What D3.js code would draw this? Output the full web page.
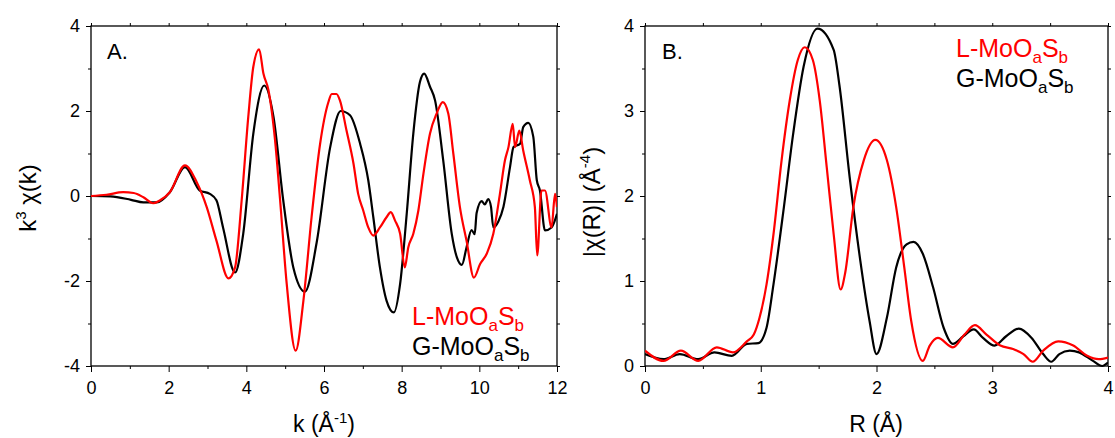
<!DOCTYPE html>
<html>
<head>
<meta charset="utf-8">
<script src="https://cdn.jsdelivr.net/npm/d3@7"></script>
<style>
  html, body { margin: 0; padding: 0; background: #fff; }
  svg { display: block; }
</style>
</head>
<body>
<svg id="chart" width="1115" height="438"></svg>
<script>
// ---- k-space EXAFS, k^3 weighted ----
const kG   = [0, 0.5, 1.03, 1.35, 1.69, 2.03, 2.42, 2.8, 3.06, 3.23, 3.40, 3.71, 3.92, 4.18, 4.46, 4.7, 4.95, 5.21, 5.51, 5.81, 6.16, 6.43, 6.67, 6.93, 7.14, 7.27, 7.44, 7.61, 7.8, 7.96, 8.13, 8.3, 8.47, 8.58, 8.73, 8.86, 9.07, 9.29, 9.42, 9.55, 9.67, 9.8, 9.88, 9.93, 10.06, 10.14, 10.23, 10.3, 10.36, 10.49, 10.62, 10.79, 10.88, 11.05, 11.13, 11.26, 11.39, 11.48, 11.56, 11.69, 11.86, 12];
const chiG = [0, -0.01, -0.09, -0.15, -0.15, 0.09, 0.68, 0.13, 0.05, -0.1, -0.74, -1.8, -0.89, 1.47, 2.6, 1.86, -0.1, -1.68, -2.25, -1.1, 1.15, 2.0, 1.9, 1.23, 0.37, -0.5, -1.68, -2.46, -2.74, -2.07, -0.42, 1.47, 2.68, 2.88, 2.57, 2.25, 0.84, -0.89, -1.44, -1.62, -1.21, -0.8, -0.9, -0.4, -0.12, -0.2, -0.07, -0.25, -0.74, -0.6, -0.26, 0.68, 1.15, 1.23, 1.62, 1.72, 1.39, 0.37, 0.13, -0.81, -0.74, -0.42];

const kL   = [0, 0.4, 0.83, 1.1, 1.35, 1.6, 1.78, 2.03, 2.42, 2.72, 2.98, 3.23, 3.54, 3.71, 3.88, 4.05, 4.18, 4.33, 4.44, 4.57, 4.74, 4.87, 5.04, 5.27, 5.47, 5.68, 5.9, 6.11, 6.2, 6.32, 6.41, 6.58, 6.76, 6.88, 7.01, 7.14, 7.27, 7.44, 7.61, 7.72, 7.83, 7.96, 8.08, 8.17, 8.3, 8.43, 8.56, 8.73, 8.9, 9.06, 9.2, 9.33, 9.5, 9.67, 9.86, 10.02, 10.19, 10.36, 10.53, 10.66, 10.75, 10.86, 10.92, 11.03, 11.13, 11.3, 11.43, 11.49, 11.6, 11.69, 11.86, 11.95, 12];
const chiL = [0, 0.03, 0.09, 0.07, -0.03, -0.17, -0.1, 0.09, 0.72, 0.33, -0.26, -1.05, -1.94, -1.68, -0.1, 1.86, 3.04, 3.45, 2.88, 2.49, 1.31, -0.1, -2.07, -3.64, -2.46, -0.5, 1.23, 2.2, 2.4, 2.4, 2.25, 1.54, 0.76, 0.05, -0.34, -0.74, -0.93, -0.74, -0.5, -0.38, -0.58, -0.89, -1.68, -1.21, -0.89, -0.34, 0.52, 1.47, 1.94, 2.21, 1.94, 1.0, -0.26, -1.05, -1.92, -1.6, -1.36, -0.89, 0.05, 0.84, 1.15, 1.7, 1.15, 1.54, 1.07, 0.37, -0.26, -1.4, 0.13, 0.13, -0.74, 0.05, -0.26];

// ---- R-space Fourier transform magnitude ----
const rG  = [0, 0.16, 0.3, 0.46, 0.6, 0.75, 0.88, 0.98, 1.05, 1.11, 1.2, 1.28, 1.37, 1.49, 1.63, 1.68, 1.77, 1.86, 1.94, 2.0, 2.09, 2.17, 2.26, 2.32, 2.4, 2.49, 2.58, 2.66, 2.75, 2.84, 2.92, 3.02, 3.12, 3.23, 3.34, 3.44, 3.51, 3.58, 3.67, 3.75, 3.87, 3.95, 4];
const ftG = [0.14, 0.08, 0.14, 0.08, 0.16, 0.12, 0.26, 0.27, 0.45, 0.96, 1.87, 2.73, 3.52, 3.97, 3.72, 3.3, 2.2, 1.24, 0.53, 0.14, 0.57, 1.16, 1.43, 1.46, 1.32, 0.92, 0.45, 0.26, 0.35, 0.43, 0.33, 0.24, 0.35, 0.44, 0.33, 0.14, 0.05, 0.14, 0.18, 0.16, 0.06, 0.0, 0.04];

const rL  = [0, 0.16, 0.31, 0.46, 0.62, 0.76, 0.88, 0.94, 0.99, 1.05, 1.11, 1.18, 1.25, 1.32, 1.38, 1.45, 1.51, 1.57, 1.63, 1.69, 1.73, 1.8, 1.89, 1.99, 2.09, 2.17, 2.24, 2.3, 2.4, 2.46, 2.53, 2.66, 2.76, 2.85, 2.95, 3.07, 3.18, 3.27, 3.35, 3.44, 3.57, 3.7, 3.82, 3.92, 4];
const ftL = [0.18, 0.06, 0.18, 0.06, 0.22, 0.16, 0.29, 0.37, 0.57, 0.96, 1.55, 2.42, 3.12, 3.6, 3.75, 3.6, 3.12, 2.34, 1.55, 0.9, 1.1, 1.87, 2.42, 2.66, 2.42, 1.87, 1.16, 0.53, 0.06, 0.24, 0.33, 0.22, 0.37, 0.48, 0.37, 0.24, 0.2, 0.14, 0.05, 0.18, 0.29, 0.24, 0.12, 0.08, 0.1];

// ---- ticks ----
const kTicks     = [0, 2, 4, 6, 8, 10, 12];
const kMinor     = [1, 3, 5, 7, 9, 11];
const chiTicks   = [-4, -2, 0, 2, 4];
const chiMinor   = [-3, -1, 1, 3];
const rTicks     = [0, 1, 2, 3, 4];
const rMinor     = [0.5, 1.5, 2.5, 3.5];
const ftTicks    = [0, 1, 2, 3, 4];
const ftMinor    = [0.5, 1.5, 2.5, 3.5];

const RED = "#ff0000", BLACK = "#000000";
const FONT = "'Liberation Sans', Arial, Helvetica, sans-serif";

const svg = d3.select("#chart").style("font-family", FONT);
const fmt = d => String(d);

function zip(xs, ys) { return xs.map((x, i) => [x, ys[i]]); }

function drawPanel(p) {
  const x = d3.scaleLinear().domain(p.xDomain).range([p.left, p.right]);
  const y = d3.scaleLinear().domain(p.yDomain).range([p.bottom, p.top]);
  const g = svg.append("g");

  const clipId = "clip-" + p.id;
  g.append("clipPath").attr("id", clipId)
    .append("rect")
    .attr("x", p.left).attr("y", p.top - 2)
    .attr("width", p.right - p.left).attr("height", p.bottom - p.top + 4);

  const styleAxis = sel => {
    sel.select(".domain").remove();
    sel.selectAll(".tick line").attr("stroke", "#000").attr("stroke-width", 1);
    sel.selectAll(".tick text").attr("fill", "#000")
      .style("font-size", "18px").style("font-family", FONT);
  };

  // bottom axis
  g.append("g").attr("transform", `translate(0,${p.bottom})`)
    .call(d3.axisBottom(x).tickValues(p.xMajor).tickSize(6).tickPadding(9).tickFormat(fmt))
    .call(styleAxis);
  g.append("g").attr("transform", `translate(0,${p.bottom})`)
    .call(d3.axisBottom(x).tickValues(p.xMinor).tickSize(3).tickFormat(""))
    .call(styleAxis);
  // top axis (ticks only)
  g.append("g").attr("transform", `translate(0,${p.top})`)
    .call(d3.axisTop(x).tickValues(p.xMajor.concat(p.xMinor)).tickSize(3).tickFormat(""))
    .call(styleAxis);
  // left axis
  g.append("g").attr("transform", `translate(${p.left},0)`)
    .call(d3.axisLeft(y).tickValues(p.yMajor).tickSize(5).tickPadding(6).tickFormat(fmt))
    .call(styleAxis);
  g.append("g").attr("transform", `translate(${p.left},0)`)
    .call(d3.axisLeft(y).tickValues(p.yMinor).tickSize(3).tickFormat(""))
    .call(styleAxis);
  // right axis (ticks only)
  g.append("g").attr("transform", `translate(${p.right},0)`)
    .call(d3.axisRight(y).tickValues(p.yMajor.concat(p.yMinor)).tickSize(3).tickFormat(""))
    .call(styleAxis);

  // frame
  g.append("rect")
    .attr("x", p.left).attr("y", p.top)
    .attr("width", p.right - p.left).attr("height", p.bottom - p.top)
    .attr("fill", "none").attr("stroke", "#000").attr("stroke-width", 1.3);

  const line = d3.line()
    .x(d => x(d[0])).y(d => y(d[1]))
    .curve(d3.curveMonotoneX);

  const plot = g.append("g").attr("clip-path", `url(#${clipId})`);
  p.series.forEach(s => {
    plot.append("path")
      .datum(zip(s.x, s.y))
      .attr("fill", "none")
      .attr("stroke", s.color)
      .attr("stroke-width", 2.2)
      .attr("stroke-linejoin", "round")
      .attr("d", line);
  });

  // panel letter
  g.append("text").attr("x", p.letterX).attr("y", 59)
    .style("font-size", "22px").attr("fill", "#000").text(p.letter);

  // legend
  p.legend.forEach((item, i) => {
    const t = g.append("text")
      .attr("x", p.legendX).attr("y", p.legendY + i * 30)
      .attr("fill", item.color).style("font-size", "25px");
    t.append("tspan").text(item.prefix + "-MoO");
    t.append("tspan").attr("dy", 6).style("font-size", "17px").text("a");
    t.append("tspan").attr("dy", -6).text("S");
    t.append("tspan").attr("dy", 6).style("font-size", "17px").text("b");
  });

  return { x, y, g };
}

// Panel A: k-space
const A = drawPanel({
  id: "a", left: 91, right: 557, top: 26, bottom: 366,
  xDomain: [0, 12], yDomain: [-4, 4],
  xMajor: kTicks, xMinor: kMinor, yMajor: chiTicks, yMinor: chiMinor,
  series: [
    { x: kG, y: chiG, color: BLACK },
    { x: kL, y: chiL, color: RED }
  ],
  letter: "A.", letterX: 107,
  legendX: 412, legendY: 325,
  legend: [{ prefix: "L", color: RED }, { prefix: "G", color: BLACK }]
});

// Panel B: R-space
const B = drawPanel({
  id: "b", left: 645, right: 1108, top: 26, bottom: 366,
  xDomain: [0, 4], yDomain: [0, 4],
  xMajor: rTicks, xMinor: rMinor, yMajor: ftTicks, yMinor: ftMinor,
  series: [
    { x: rG, y: ftG, color: BLACK },
    { x: rL, y: ftL, color: RED }
  ],
  letter: "B.", letterX: 662,
  legendX: 956, legendY: 57,
  legend: [{ prefix: "L", color: RED }, { prefix: "G", color: BLACK }]
});

// axis titles
function xTitle(cx, parts) {
  const t = svg.append("text").attr("x", cx).attr("y", 432)
    .attr("text-anchor", "middle").style("font-size", "23px").attr("fill", "#000");
  parts(t);
}
xTitle(324, t => {
  t.append("tspan").text("k (Å");
  t.append("tspan").attr("dy", -9).style("font-size", "15px").text("-1");
  t.append("tspan").attr("dy", 9).text(")");
});
xTitle(876, t => {
  t.append("tspan").text("R (Å)");
});

const yt1 = svg.append("text")
  .attr("transform", "translate(36,198) rotate(-90)")
  .attr("text-anchor", "middle").style("font-size", "24px").attr("fill", "#000");
yt1.append("tspan").text("k");
yt1.append("tspan").attr("dy", -10).style("font-size", "15px").text("3");
yt1.append("tspan").attr("dy", 10).text("\u00A0χ(k)");

const yt2 = svg.append("text")
  .attr("transform", "translate(600,202) rotate(-90)")
  .attr("text-anchor", "middle").style("font-size", "24px").attr("fill", "#000");
yt2.append("tspan").text("|χ(R)|\u00A0(Å");
yt2.append("tspan").attr("dy", -10).style("font-size", "15px").text("-4");
yt2.append("tspan").attr("dy", 10).text(")");
</script>
</body>
</html>
